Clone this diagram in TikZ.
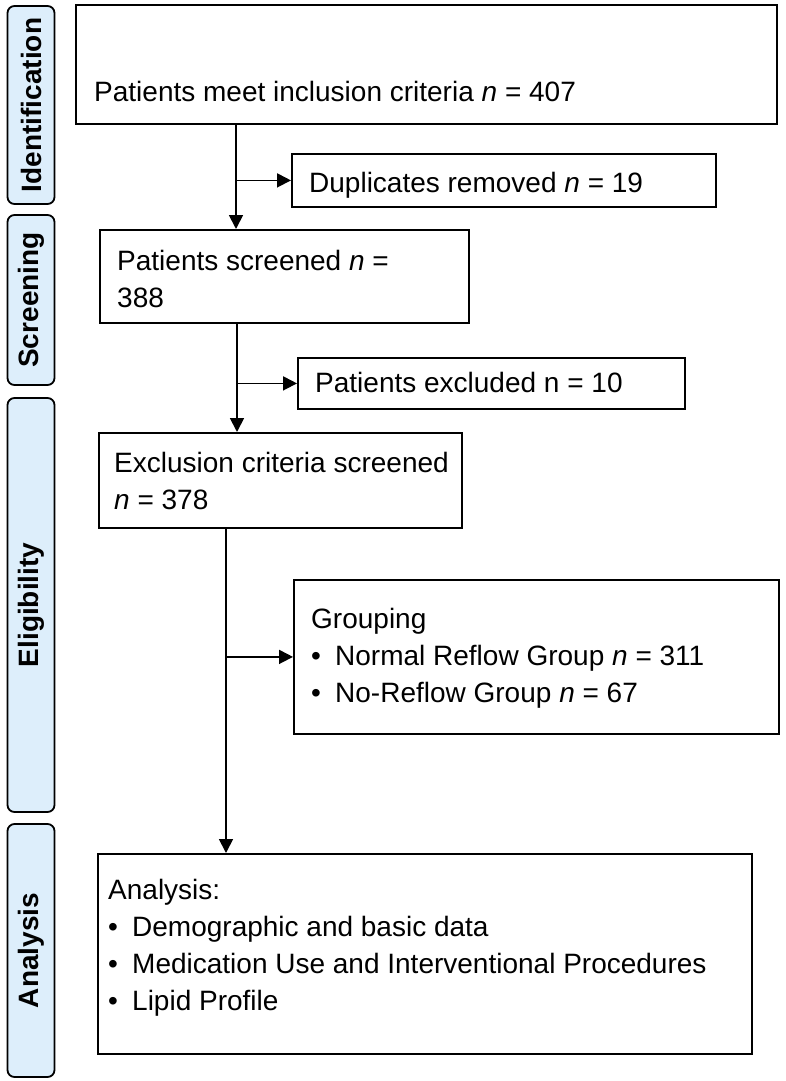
\documentclass[tikz,border=0pt]{standalone}
\usepackage{fontspec}
\setmainfont{Liberation Sans}
\usetikzlibrary{arrows.meta}

\definecolor{stageblue}{RGB}{221,238,251}

\tikzset{
  stage/.style={draw, line width=1.8pt, rounded corners=7pt, fill=stageblue,
    minimum height=47pt, inner sep=0pt, rotate=90,
    font=\fontsize{28}{34}\selectfont\bfseries},
  frame/.style={draw, line width=1.8pt, inner sep=0pt, anchor=north west},
  txt/.style={anchor=base west, inner sep=0pt, align=left,
    font=\fontsize{28}{37}\selectfont},
  arr/.style={line width=1.8pt, -{Triangle[length=14pt,width=14pt]}},
}
\newcommand{\bul}{\makebox[24pt][l]{•}}

\begin{document}
\begin{tikzpicture}[x=1pt,y=-1pt]
    \useasboundingbox (0,0) rectangle (786,1081);
    % stages on the left
    \node[stage, minimum width=198pt] (stId)   at (31,105)   {Identification};
    \node[stage, minimum width=170pt] (stScr)  at (31,300)   {Screening};
    \node[stage, minimum width=414pt] (stElig) at (31,605)   {Eligibility};
    \node[stage, minimum width=253pt] (stAna)  at (31,950.5) {Analysis};

    % boxes
    \node[frame, minimum width=701pt, minimum height=119pt] (incl) at (75,4) {};
    \node[frame, minimum width=424pt, minimum height=53pt]  (dup)  at (291,153) {};
    \node[frame, minimum width=369pt, minimum height=93pt]  (scr)  at (99,229) {};
    \node[frame, minimum width=387pt, minimum height=51pt]  (excl) at (297,357) {};
    \node[frame, minimum width=363pt, minimum height=95pt]  (crit) at (98,432) {};
    \node[frame, minimum width=485pt, minimum height=154pt] (grp)  at (293,579) {};
    \node[frame, minimum width=654pt, minimum height=200pt] (ana)  at (97,853) {};

    % texts (base = last line)
    \node[txt] (inclT) at (94,101)  {Patients meet inclusion criteria \textit{n} = 407};
    \node[txt] (dupT)  at (309,192) {Duplicates removed \textit{n} = 19};
    \node[txt] (scrT)  at (117,307) {Patients screened \textit{n} =\\388};
    \node[txt] (exclT) at (315,392) {Patients excluded n = 10};
    \node[txt] (critT) at (114,509) {Exclusion criteria screened\\\textit{n} = 378};
    \node[txt] (grpT)  at (311,702) {Grouping\\
        \bul Normal Reflow Group \textit{n} = 311\\
        \bul No-Reflow Group \textit{n} = 67};
    \node[txt] (anaT)  at (108,1010) {Analysis:\\
        \bul Demographic and basic data\\
        \bul Medication Use and Interventional Procedures\\
        \bul Lipid Profile};

    % connectors
    \coordinate (s1) at (236,0);
    \coordinate (s2) at (237,0);
    \coordinate (s3) at (226,0);
    \draw[arr] (s1 |- incl.south) -- (s1 |- scr.north);
    \draw[arr] (s1 |- dup.west) -- (dup.west);
    \draw[arr] (s2 |- scr.south) -- (s2 |- crit.north);
    \draw[arr] (s2 |- excl.west) -- (excl.west);
    \draw[arr] (s3 |- crit.south) -- (s3 |- ana.north);
    \draw[arr] (s3 |- grp.west) -- (grp.west);
\end{tikzpicture}
\end{document}
